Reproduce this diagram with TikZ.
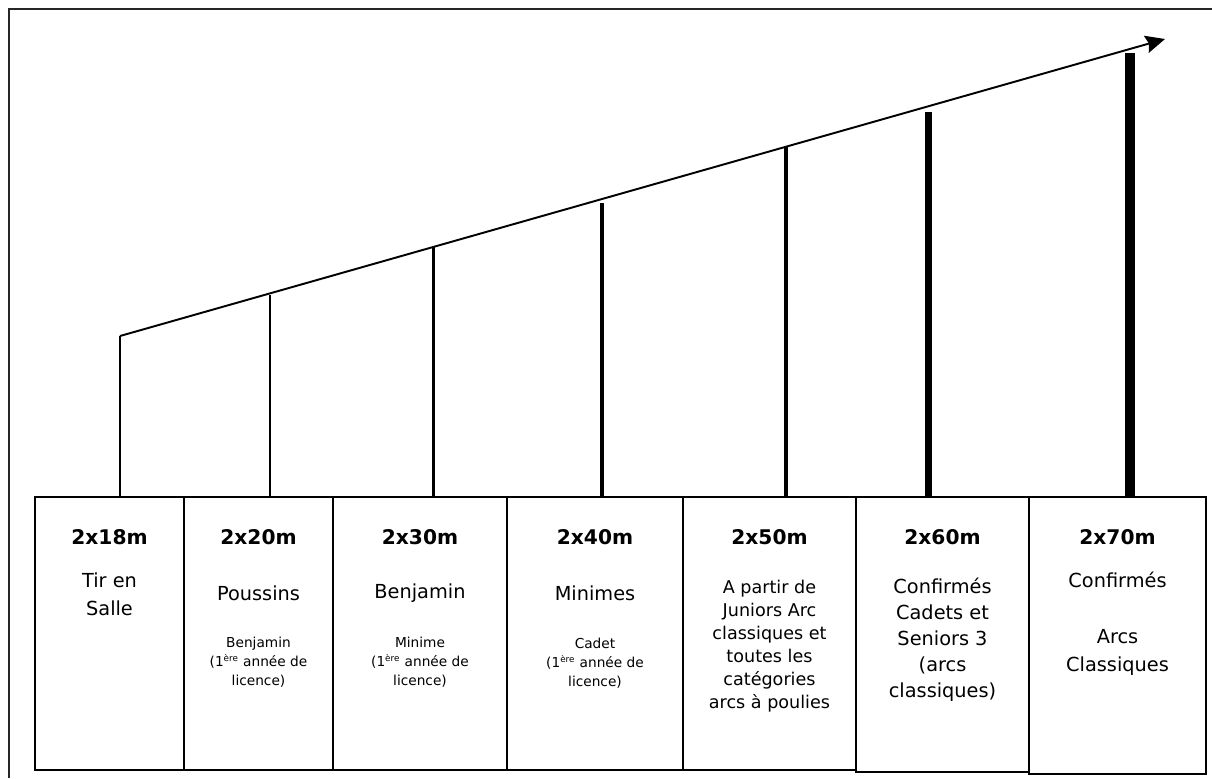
\documentclass[tikz,border=0pt]{standalone}
\usepackage{fontspec}
\setmainfont{DejaVu Sans}
\usetikzlibrary{arrows.meta, positioning, fit}

\begin{document}
\begin{tikzpicture}[
        x=0.02cm, y=-0.02cm,
        >=Stealth,
        frame/.style={line width=0.8pt, black!85},
        box/.style={draw, line width=1pt, inner sep=0pt},
        post/.style={line width=#1, line cap=butt},
        ttl/.style={anchor=base, font=\fontsize{11.5}{12}\selectfont\bfseries},
        main/.style={anchor=base, align=center, font=\fontsize{11}{15.9}\selectfont},
        sub/.style={anchor=base, align=center, font=\fontsize{7.8}{10.8}\selectfont},
        rise/.style={-{Stealth[length=11pt, width=10pt, inset=1.5pt]}, line width=1.1pt}
    ]
        \useasboundingbox (0,0) rectangle (1212,778);

        % cadre
        \draw[frame] (9,778) -- (9,9) -- (1212,9);

        % cases des distances
        \node[box, fit={(35,497) (184,770)}]   (b1) {};
        \node[box, fit={(184,497) (333,770)}]  (b2) {};
        \node[box, fit={(333,497) (507,770)}]  (b3) {};
        \node[box, fit={(507,497) (683,770)}]  (b4) {};
        \node[box, fit={(683,497) (856,770)}]  (b5) {};
        \node[box, fit={(856,497) (1029,772)}] (b6) {};
        \node[box, fit={(1029,497) (1206,774)}] (b7) {};

        % distances
        \node[ttl] (d1) at (b1.north |- 0,544) {2x18m};
        \node[ttl] (d2) at (b2.north |- 0,544) {2x20m};
        \node[ttl] (d3) at (b3.north |- 0,544) {2x30m};
        \node[ttl] (d4) at (b4.north |- 0,544) {2x40m};
        \node[ttl] (d5) at (b5.north |- 0,544) {2x50m};
        \node[ttl] (d6) at (b6.north |- 0,544) {2x60m};
        \node[ttl] (d7) at (b7.north |- 0,544) {2x70m};

        % categories (ancre = ligne de base de la derniere ligne)
        \node[main] (c1) at (b1.north |- 0,615) {Tir en\\Salle};
        \node[main] (c2) at (b2.north |- 0,600) {Poussins};
        \node[main] (c3) at (b3.north |- 0,598) {Benjamin};
        \node[main] (c4) at (b4.north |- 0,600) {Minimes};
        \node[main, font=\fontsize{10}{13}\selectfont] (c5) at (b5.north |- 0,708)
            {A partir de\\Juniors Arc\\classiques et\\toutes les\\catégories\\arcs à poulies};
        \node[main, font=\fontsize{11}{14.7}\selectfont] (c6) at (b6.north |- 0,697)
            {Confirmés\\Cadets et\\Seniors 3\\(arcs\\classiques)};
        \node[main] (c7) at (b7.north |- 0,671) {Confirmés\\[15.9pt]Arcs\\Classiques};

        % premiere annee de licence
        \node[sub] (s2) at (b2.north |- 0,685) {Benjamin\\(1\textsuperscript{\tiny ère} année de\\licence)};
        \node[sub] (s3) at (b3.north |- 0,685) {Minime\\(1\textsuperscript{\tiny ère} année de\\licence)};
        \node[sub] (s4) at (b4.north |- 0,686) {Cadet\\(1\textsuperscript{\tiny ère} année de\\licence)};

        % poteaux
        \coordinate (p1) at (120,336);
        \coordinate (p2) at (270,295);
        \coordinate (p3) at (433,247);
        \coordinate (p4) at (602,203);
        \coordinate (p5) at (786,147);
        \coordinate (p6) at (928,112);
        \coordinate (p7) at (1130,53);
        \draw[post=1.1pt] (p1) -- (p1 |- b1.north);
        \draw[post=1.4pt] (p2) -- (p2 |- b2.north);
        \draw[post=1.7pt] (p3) -- (p3 |- b3.north);
        \draw[post=2.3pt] (p4) -- (p4 |- b4.north);
        \draw[post=2.8pt] (p5) -- (p5 |- b5.north);
        \draw[post=4pt]   (p6) -- (p6 |- b6.north);
        \draw[post=5.7pt] (p7) -- (p7 |- b7.north);

        % progression
        \coordinate (tip) at (1165,39);
        \draw[rise] (p1) -- (tip);

    \end{tikzpicture}
\end{document}
